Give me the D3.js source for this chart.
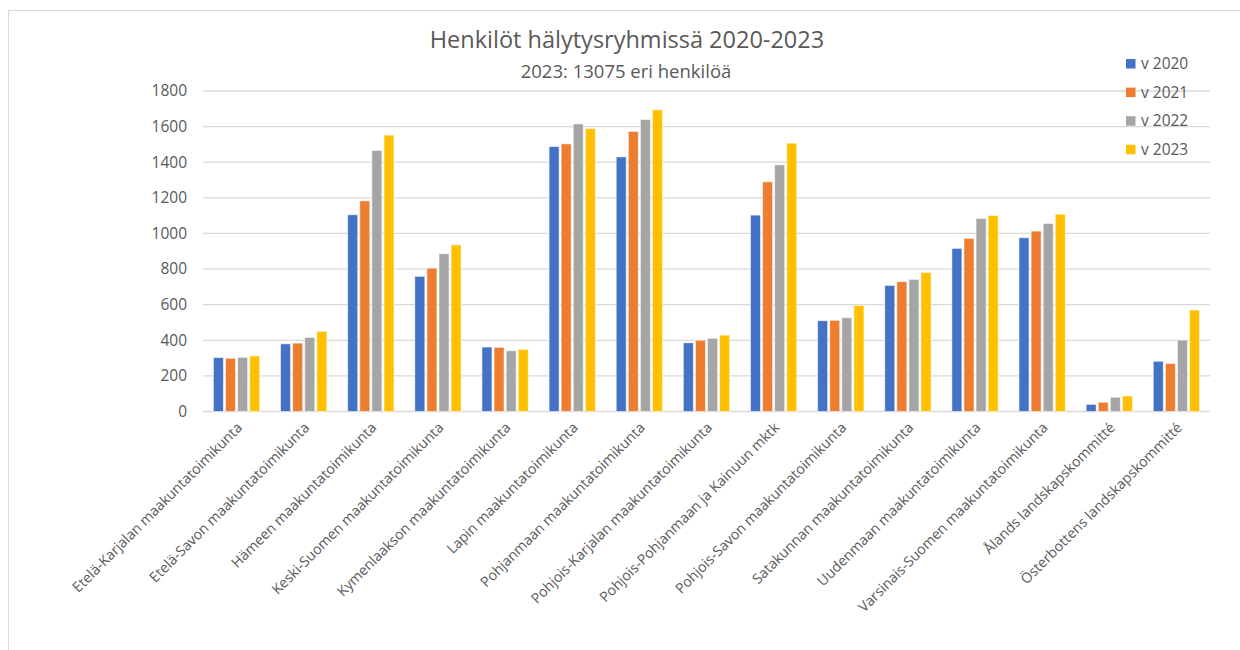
<!DOCTYPE html>
<meta charset="utf-8">
<script src="https://d3js.org/d3.v7.min.js"></script>
<style>
  body { margin: 0; background: #fff; }
  text { font-family: "Open Sans", sans-serif; fill: #595959; }
</style>
<body>
<div id="chart"></div>
<script>

// regions (x axis)
const regions = [
  "Etelä-Karjalan maakuntatoimikunta",
  "Etelä-Savon maakuntatoimikunta",
  "Hämeen maakuntatoimikunta",
  "Keski-Suomen maakuntatoimikunta",
  "Kymenlaakson maakuntatoimikunta",
  "Lapin maakuntatoimikunta",
  "Pohjanmaan maakuntatoimikunta",
  "Pohjois-Karjalan maakuntatoimikunta",
  "Pohjois-Pohjanmaan ja Kainuun mktk",
  "Pohjois-Savon maakuntatoimikunta",
  "Satakunnan maakuntatoimikunta",
  "Uudenmaan maakuntatoimikunta",
  "Varsinais-Suomen maakuntatoimikunta",
  "Ålands landskapskommitté",
  "Österbottens landskapskommitté"
];

const years = ["v 2020", "v 2021", "v 2022", "v 2023"];

// values
const v2020 = [303, 380, 1105, 759, 362, 1488, 1430, 386, 1103, 510, 708, 916, 976, 40, 282];
const v2021 = [299, 384, 1183, 805, 360, 1503, 1573, 400, 1290, 512, 729, 972, 1013, 52, 270];
const v2022 = [304, 416, 1466, 886, 341, 1615, 1640, 411, 1385, 527, 742, 1084, 1056, 80, 401];
const v2023 = [312, 450, 1552, 936, 349, 1589, 1694, 429, 1507, 596, 781, 1101, 1108, 87, 570];

const yTicks = [0, 200, 400, 600, 800, 1000, 1200, 1400, 1600, 1800];

const colors = ["#4472C4", "#ED7D31", "#A5A5A5", "#FFC000"];

const series = [v2020, v2021, v2022, v2023];
const data = regions.map((r, i) => ({
  region: r,
  values: years.map((y, j) => ({ year: y, value: series[j][i] }))
}));

const W = 1240, H = 650;
const plot = {left: 203, right: 1210, top: 91, bottom: 411.5};

const svg = d3.select("#chart").append("svg")
  .attr("width", W)
  .attr("height", H);

// outer frame
svg.append("rect")
  .attr("x", 8.5).attr("y", 10.5)
  .attr("width", W).attr("height", H)
  .attr("fill", "none")
  .attr("stroke", "#d9d9d9");

const x = d3.scaleBand().domain(regions).range([plot.left, plot.right]);
const pad = x.bandwidth() * 0.155;
const x1 = d3.scaleBand().domain(years)
  .range([pad, x.bandwidth() - pad])
  .paddingInner(0.17);
const y = d3.scaleLinear().domain([0, 1800]).range([plot.bottom, plot.top]);

// gridlines
svg.append("g")
  .selectAll("line")
  .data(yTicks)
  .join("line")
    .attr("x1", plot.left).attr("x2", plot.right)
    .attr("y1", d => y(d)).attr("y2", d => y(d))
    .attr("stroke", "#d9d9d9")
    .attr("stroke-width", 1.3);

// y axis labels
svg.append("g")
  .selectAll("text")
  .data(yTicks)
  .join("text")
    .attr("x", 187)
    .attr("y", d => y(d))
    .attr("dy", "0.35em")
    .attr("text-anchor", "end")
    .style("font-size", "15.5px")
    .text(d => d);

// bars
svg.append("g")
  .selectAll("g")
  .data(data)
  .join("g")
    .attr("transform", d => `translate(${x(d.region)},0)`)
  .selectAll("rect")
  .data(d => d.values)
  .join("rect")
    .attr("x", d => x1(d.year))
    .attr("y", d => y(d.value))
    .attr("width", x1.bandwidth())
    .attr("height", d => y(0) - y(d.value))
    .attr("fill", (d, i) => colors[i])
    .attr("stroke", "#fff")
    .attr("stroke-opacity", 0.55)
    .attr("stroke-width", 1);

// x labels
svg.append("g")
  .selectAll("text")
  .data(regions)
  .join("text")
    .attr("transform", d => `translate(${x(d) + x.bandwidth() / 2 + 3},${425}) rotate(-45)`)
    .attr("text-anchor", "end")
    .attr("dy", "0.35em")
    .style("font-size", "14.2px")
    .text(d => d);

// title
svg.append("text")
  .attr("x", 627).attr("y", 48)
  .attr("text-anchor", "middle")
  .style("font-size", "23.5px")
  .text("Henkilöt hälytysryhmissä 2020-2023");

svg.append("text")
  .attr("x", 626).attr("y", 78)
  .attr("text-anchor", "middle")
  .style("font-size", "18.5px")
  .text("2023: 13075 eri henkilöä");

// legend
const legend = svg.append("g")
  .selectAll("g")
  .data(years)
  .join("g")
    .attr("transform", (d, i) => `translate(1126,${63.5 + i * 28.6})`);
legend.append("rect")
  .attr("x", 0).attr("y", -4.5)
  .attr("width", 9.5).attr("height", 9.5)
  .attr("fill", (d, i) => colors[i]);
legend.append("text")
  .attr("x", 15).attr("y", 0)
  .attr("dy", "0.35em")
  .style("font-size", "15.5px")
  .text(d => d);

</script>
</body>
